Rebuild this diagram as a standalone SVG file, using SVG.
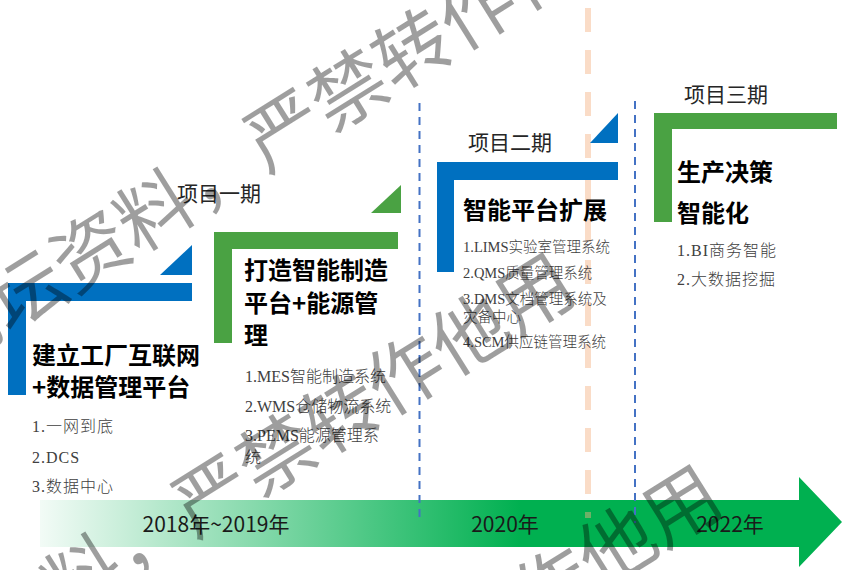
<svg xmlns="http://www.w3.org/2000/svg" width="842" height="570" viewBox="0 0 842 570">
  <defs>
    <linearGradient id="arrowGrad" gradientUnits="userSpaceOnUse" x1="30" y1="0" x2="520" y2="0">
      <stop offset="0" stop-color="#00B050" stop-opacity="0.03"/>
      <stop offset="1" stop-color="#00B050" stop-opacity="1"/>
    </linearGradient>
    <style>
      .blue { fill: #0070C0; }
      .green { fill: #4AA243; }
      .title { font-family: "Noto Sans CJK SC", "Noto Sans", sans-serif; font-weight: 700; font-size: 24px; fill: #000000; }
      .phase { font-family: "Noto Sans CJK SC", "Noto Sans", sans-serif; font-size: 21px; fill: #262626; }
      .item { font-family: "Liberation Serif", "Noto Sans CJK SC", serif; font-weight: 300; font-size: 16px; fill: #404040; }
      .wide { letter-spacing: 1px; }
      .small { font-size: 14.5px; }
      .year { font-family: "Noto Sans CJK SC", "Noto Sans", sans-serif; font-size: 21px; fill: #1a1a1a; text-anchor: middle; }
      .vdash { stroke: #4472C4; stroke-width: 2; stroke-dasharray: 8 6; fill: none; }
      .odash { stroke: #F4B183; stroke-opacity: 0.45; stroke-width: 6; stroke-dasharray: 24 18; fill: none; }
      .wm { font-family: "Noto Sans CJK SC", sans-serif; font-size: 76px; fill: #000000; fill-opacity: 0.38; }
    </style>
  </defs>
  <rect x="0" y="0" width="842" height="570" fill="#FFFFFF"/>

  <g id="timeline-arrow">
    <polygon points="40,500 799,500 799,477 842,522 799,567 799,547 40,547" fill="url(#arrowGrad)"/>
    <text class="year" x="216" y="532">2018年~2019年</text>
    <text class="year" x="505" y="532">2020年</text>
    <text class="year" x="730" y="532">2022年</text>
  </g>

  <g id="connectors">
    <line class="odash" x1="588" y1="8" x2="588" y2="518"/>
    <line class="vdash" x1="419.5" y1="103" x2="419.5" y2="523"/>
    <line class="vdash" x1="635" y1="101" x2="635" y2="523"/>
  </g>

  <g id="stage1">
    <rect class="blue" x="8" y="283" width="184" height="18"/>
    <rect class="blue" x="8" y="283" width="18" height="112"/>
    <polygon class="blue" points="160,275 192,275 192,245"/>
    <text class="title" x="32" y="364">建立工厂互联网</text>
    <text class="title" x="32" y="396">+数据管理平台</text>
    <text class="item wide" x="32" y="432">1.一网到底</text>
    <text class="item wide" x="32" y="463">2.DCS</text>
    <text class="item wide" x="32" y="492">3.数据中心</text>
  </g>

  <g id="stage2">
    <text class="phase" x="177" y="201">项目一期</text>
    <rect class="green" x="214" y="232" width="184" height="17"/>
    <rect class="green" x="214" y="232" width="18" height="111"/>
    <polygon class="green" points="371,213 401,213 401,185"/>
    <text class="title" x="244" y="279">打造智能制造</text>
    <text class="title" x="244" y="312">平台+能源管</text>
    <text class="title" x="244" y="344">理</text>
    <text class="item" x="245" y="382">1.MES智能制造系统</text>
    <text class="item" x="245" y="412">2.WMS仓储物流系统</text>
    <text class="item" x="245" y="441">3.PEMS能源管理系</text>
    <text class="item" x="245" y="463">统</text>
  </g>

  <g id="stage3">
    <text class="phase" x="468" y="150">项目二期</text>
    <rect class="blue" x="437" y="162" width="181" height="18"/>
    <rect class="blue" x="437" y="162" width="17" height="110"/>
    <polygon class="blue" points="590,143 618,143 618,113"/>
    <text class="title" x="463" y="219">智能平台扩展</text>
    <text class="item small" x="463" y="252">1.LIMS实验室管理系统</text>
    <text class="item small" x="463" y="278">2.QMS质量管理系统</text>
    <text class="item small" x="463" y="304">3.DMS文档管理系统及</text>
    <text class="item small" x="463" y="322">灾备中心</text>
    <text class="item small" x="463" y="347">4.SCM供应链管理系统</text>
  </g>

  <g id="stage4">
    <text class="phase" x="684" y="102">项目三期</text>
    <rect class="green" x="654" y="113" width="183" height="16"/>
    <rect class="green" x="654" y="113" width="18" height="109"/>
    <text class="title" x="677" y="181">生产决策</text>
    <text class="title" x="677" y="222">智能化</text>
    <text class="item wide" x="677" y="256">1.BI商务智能</text>
    <text class="item wide" x="677" y="285">2.大数据挖掘</text>
  </g>

  <g id="watermark" class="wm">
    <text transform="translate(-56,375) rotate(-32)">论坛资料，严禁转作他用</text>
    <text transform="translate(-128,740) rotate(-32)">论坛资料，严禁转作他用</text>
    <text transform="translate(19,952) rotate(-32)">论坛资料，严禁转作他用</text>
  </g>
</svg>
